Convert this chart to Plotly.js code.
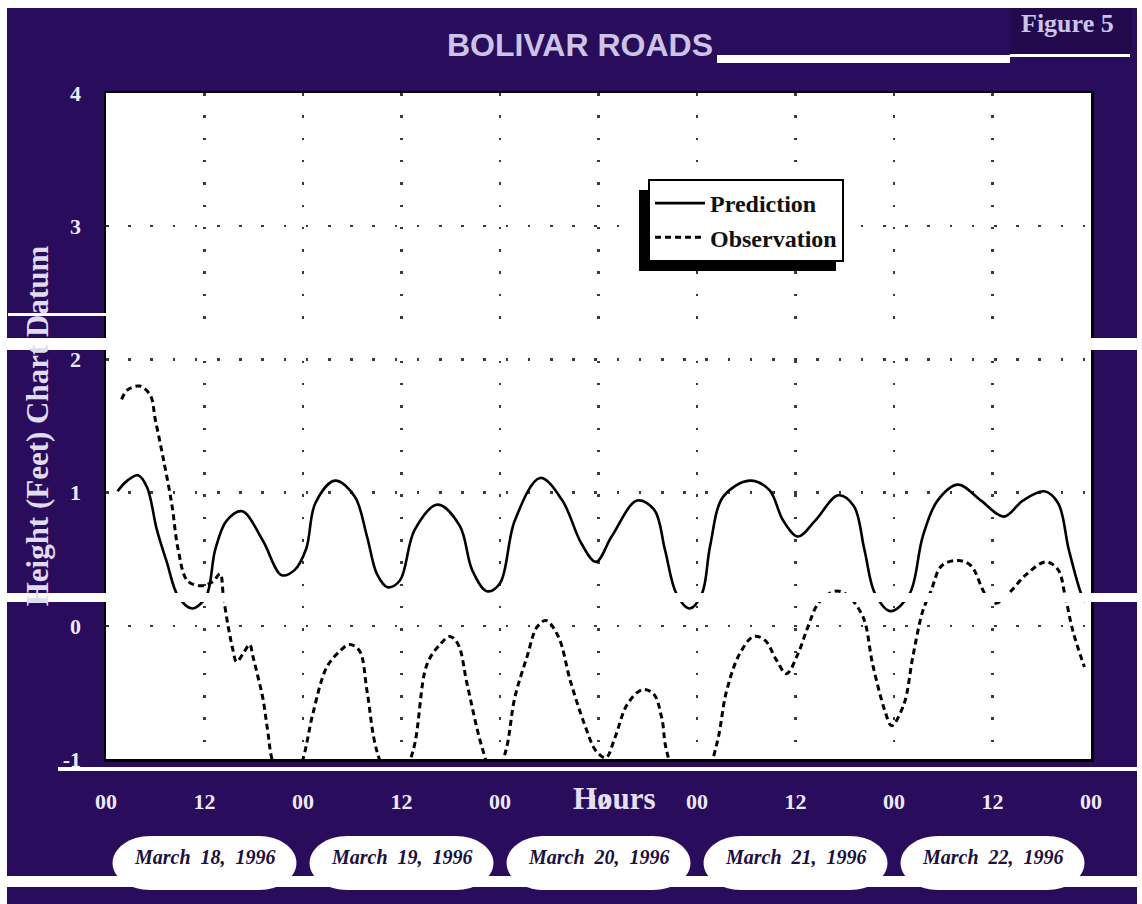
<!DOCTYPE html>
<html>
<head>
<meta charset="utf-8">
<script src="https://cdn.plot.ly/plotly-3.0.1.min.js"></script>
<style>
  html, body { margin: 0; padding: 0; background: #ffffff; }
  #chart { width: 1142px; height: 904px; }
</style>
</head>
<body>
<div id="chart"></div>
<script>
// ---------------- data ----------------
const predHours = [1.4, 2.6, 3.9, 5.0, 6.2, 7.4, 8.8, 10.5, 12.2, 13.3, 14.7, 16.6, 19.1, 21.4, 23.0, 24.4, 25.5, 27.9, 30.3, 31.8, 33.0, 34.3, 35.8, 37.6, 40.4, 43.1, 44.6, 46.4, 48.0, 49.8, 52.9, 55.6, 57.9, 59.7, 61.6, 64.7, 66.8, 68.1, 69.5, 71.1, 72.6, 73.6, 75.2, 78.4, 80.8, 82.5, 84.3, 86.4, 89.2, 91.1, 92.4, 93.7, 95.6, 97.9, 99.5, 101.3, 103.8, 106.6, 109.4, 111.7, 114.3, 116.0, 117.3, 118.8, 119.3];
const predValues = [1.01, 1.09, 1.13, 1.04, 0.72, 0.48, 0.22, 0.13, 0.22, 0.57, 0.79, 0.86, 0.64, 0.38, 0.42, 0.58, 0.92, 1.09, 0.97, 0.67, 0.39, 0.29, 0.34, 0.72, 0.91, 0.75, 0.42, 0.26, 0.32, 0.79, 1.11, 0.94, 0.62, 0.48, 0.67, 0.94, 0.87, 0.57, 0.24, 0.13, 0.24, 0.60, 0.97, 1.09, 1.02, 0.79, 0.67, 0.79, 0.98, 0.90, 0.57, 0.24, 0.11, 0.24, 0.67, 0.94, 1.06, 0.94, 0.82, 0.94, 1.01, 0.92, 0.57, 0.24, 0.18];

const obsHours = [1.9, 2.6, 4.1, 5.4, 6.0, 6.9, 8.0, 8.8, 9.9, 11.5, 13.0, 13.9, 14.3, 14.9, 15.5, 15.9, 16.7, 17.5, 17.9, 18.5, 19.1, 19.7, 20.3, 22.2, 24.0, 25.2, 26.9, 28.5, 29.7, 30.9, 31.8, 33.0, 35.2, 37.4, 39.1, 40.7, 41.9, 42.9, 44.0, 45.8, 47.3, 48.7, 49.8, 51.3, 52.5, 53.6, 55.1, 56.6, 58.3, 59.7, 60.9, 62.0, 63.5, 65.3, 66.7, 67.7, 68.3, 71.3, 74.4, 75.6, 77.2, 78.9, 80.3, 81.7, 82.9, 84.3, 85.5, 86.8, 88.8, 90.1, 92.2, 93.4, 94.9, 95.7, 97.2, 98.3, 99.5, 100.5, 101.8, 103.8, 105.4, 107.1, 108.4, 109.9, 112.2, 114.5, 116.0, 116.8, 117.8, 119.2];
const obsValues = [1.70, 1.77, 1.80, 1.73, 1.55, 1.28, 0.92, 0.57, 0.34, 0.30, 0.33, 0.39, 0.22, -0.01, -0.19, -0.27, -0.21, -0.14, -0.23, -0.38, -0.54, -0.79, -1.02, -1.30, -1.00, -0.66, -0.31, -0.19, -0.14, -0.19, -0.49, -0.94, -1.25, -0.94, -0.29, -0.14, -0.08, -0.14, -0.44, -0.91, -1.15, -0.94, -0.54, -0.23, -0.01, 0.04, -0.08, -0.42, -0.74, -0.94, -0.99, -0.84, -0.59, -0.48, -0.51, -0.69, -0.94, -1.45, -0.89, -0.49, -0.21, -0.08, -0.11, -0.26, -0.36, -0.21, -0.01, 0.17, 0.26, 0.24, 0.07, -0.29, -0.64, -0.75, -0.59, -0.23, 0.11, 0.26, 0.45, 0.49, 0.45, 0.24, 0.17, 0.24, 0.39, 0.48, 0.42, 0.24, -0.04, -0.31];

const xTickVals = [0, 12, 24, 36, 48, 60, 72, 84, 96, 108, 120];
const xTickText = ['00', '12', '00', '12', '00', '12', '00', '12', '00', '12', '00'];
const yTickVals = [-1, 0, 1, 2, 3, 4];
const yTickText = ['-1', '0', '1', '2', '3', '4'];
const dayLabels = ['March  18,  1996', 'March  19,  1996', 'March  20,  1996', 'March  21,  1996', 'March  22,  1996'];
const dayNoon = [12, 36, 60, 84, 108];

// ---------------- layout helpers ----------------
const W = 1142, H = 904;
const L = 106, R = 1091, T = 93, B = 759;
const px2x = px => (px - L) / (R - L);
const py2y = py => (B - py) / (B - T);
const navy = '#2a0c5c';
const lav = '#cbc4e6';
const tickCol = '#ece9f6';
const serif = 'Liberation Serif, Times New Roman, serif';

function rectPx(x0, y0, x1, y1, color, layer) {
  return { type: 'rect', xref: 'paper', yref: 'paper',
    x0: px2x(x0), x1: px2x(x1), y0: py2y(y1), y1: py2y(y0),
    fillcolor: color, line: { width: 0 }, layer: layer || 'above' };
}

// pill-shaped oval path in (data x, paper y)
function pill(c, halfW, rx, py0, py1) {
  const y0 = py2y(py1), y1 = py2y(py0);
  const ym = (y0 + y1) / 2, ry = (y1 - y0) / 2, k = 0.5523;
  const a = c - halfW, b = c + halfW;
  return 'M' + (a + rx) + ',' + y1 +
    ' L' + (b - rx) + ',' + y1 +
    ' C' + (b - rx + k * rx) + ',' + y1 + ' ' + b + ',' + (ym + k * ry) + ' ' + b + ',' + ym +
    ' C' + b + ',' + (ym - k * ry) + ' ' + (b - rx + k * rx) + ',' + y0 + ' ' + (b - rx) + ',' + y0 +
    ' L' + (a + rx) + ',' + y0 +
    ' C' + (a + rx - k * rx) + ',' + y0 + ' ' + a + ',' + (ym - k * ry) + ' ' + a + ',' + ym +
    ' C' + a + ',' + (ym + k * ry) + ' ' + (a + rx - k * rx) + ',' + y1 + ' ' + (a + rx) + ',' + y1 + ' Z';
}

const shapes = [];
// "Figure 5" darker box
shapes.push(rectPx(1010, 8, 1132, 55, '#22094d', 'below'));
// legend drop shadow (offset left/down from the legend box)
shapes.push(rectPx(639, 190, 836, 271, '#000000', 'above'));
// date ovals
dayNoon.forEach(c => {
  shapes.push({ type: 'path', xref: 'x', yref: 'paper', path: pill(c, 11.2, 4.6, 836, 890),
    fillcolor: '#ffffff', line: { color: '#ffffff', width: 0 }, layer: 'above' });
});
// white page margins and scan strips
shapes.push(rectPx(0, 0, W, 8, '#ffffff'));
shapes.push(rectPx(0, 0, 7, H, '#ffffff'));
shapes.push(rectPx(1137, 0, W, H, '#ffffff'));
shapes.push(rectPx(717, 55, 1010, 63, '#ffffff'));
shapes.push(rectPx(1010, 54, 1130, 57, '#ffffff'));
shapes.push(rectPx(8, 313, 110, 316, '#ffffff'));
shapes.push(rectPx(0, 338, W, 350, '#ffffff'));
shapes.push(rectPx(0, 593, W, 602, '#ffffff'));
shapes.push(rectPx(58, 767, W, 771, '#ffffff'));
shapes.push(rectPx(0, 876, W, 887, '#ffffff'));

const annotations = [
  { text: '<b>Figure 5</b>', xref: 'paper', yref: 'paper', x: px2x(1067), y: py2y(23),
    xanchor: 'center', yanchor: 'middle', showarrow: false,
    font: { family: serif, size: 26, color: lav } },
  { text: '<b>Hours</b>', xref: 'paper', yref: 'paper', x: px2x(614), y: py2y(798),
    xanchor: 'center', yanchor: 'middle', showarrow: false,
    font: { family: serif, size: 31, color: '#e4e0f2' } }
];
dayLabels.forEach((t, i) => {
  annotations.push({ text: '<b><i>' + t + '</i></b>', xref: 'x', yref: 'paper', x: dayNoon[i], y: py2y(857),
    xanchor: 'center', yanchor: 'middle', showarrow: false,
    font: { family: serif, size: 20, color: '#1c1040' } });
});

const traces = [
  { x: predHours, y: predValues, name: 'Prediction', type: 'scatter', mode: 'lines',
    line: { color: '#000000', width: 2.6, shape: 'spline', smoothing: 1 } },
  { x: obsHours, y: obsValues, name: 'Observation', type: 'scatter', mode: 'lines',
    line: { color: '#000000', width: 3, dash: '6px,4px', shape: 'spline', smoothing: 1 } }
];

const layout = {
  width: W, height: H,
  paper_bgcolor: navy, plot_bgcolor: '#ffffff',
  margin: { l: L, r: W - R, t: T, b: H - B, pad: 0 },
  title: { text: '<b>BOLIVAR ROADS</b>', xref: 'container', yref: 'container',
    x: 580 / W, xanchor: 'center', y: 1 - 45 / H, yanchor: 'middle',
    font: { family: 'Liberation Sans, Arial, sans-serif', size: 32, color: lav } },
  xaxis: {
    range: [0, 120], tickvals: xTickVals, ticktext: xTickText,
    showgrid: true, gridcolor: '#3a3a3a', gridwidth: 2.5, griddash: '2.5px,19.8px',
    zeroline: false, showline: true, mirror: true, linecolor: '#000000', linewidth: 2.5,
    ticks: '', ticklabelstandoff: 21,
    tickfont: { family: serif, size: 22, color: tickCol, weight: 'bold' }
  },
  yaxis: {
    range: [-1, 4], tickvals: yTickVals, ticktext: yTickText,
    showgrid: true, gridcolor: '#3a3a3a', gridwidth: 2.5, griddash: '2.5px,19.7px',
    zeroline: false, showline: true, mirror: true, linecolor: '#000000', linewidth: 2.5,
    ticks: '', ticklabelstandoff: 18,
    tickfont: { family: serif, size: 22, color: tickCol, weight: 'bold' },
    title: { text: '<b>Height (Feet) Chart Datum</b>', standoff: 5,
      font: { family: serif, size: 31, color: '#e0dcef' } }
  },
  showlegend: true,
  legend: {
    x: px2x(648), y: py2y(179), xanchor: 'left', yanchor: 'top',
    bgcolor: '#ffffff', bordercolor: '#000000', borderwidth: 2,
    font: { family: serif, size: 24, color: '#111111', weight: 'bold' },
    itemwidth: 50, tracegroupgap: 0
  },
  shapes: shapes,
  annotations: annotations
};

Plotly.newPlot('chart', traces, layout, { staticPlot: true, displayModeBar: false });
</script>
</body>
</html>
